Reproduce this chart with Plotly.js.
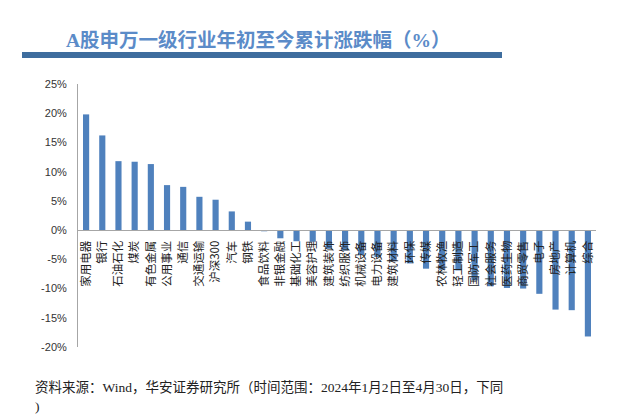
<!DOCTYPE html>
<html>
<head>
<meta charset="utf-8">
<script src="https://cdn.plot.ly/plotly-3.0.1.min.js"></script>
<style>
  html, body { margin: 0; padding: 0; background: #fff; }
  #chart { width: 635px; height: 417px; }
</style>
</head>
<body>
<div id="chart"></div>
<script>
var industries = ['家用电器', '银行', '石油石化', '煤炭', '有色金属', '公用事业', '通信', '交通运输', '沪深300', '汽车', '钢铁',
    '食品饮料', '非银金融', '基础化工', '美容护理', '建筑装饰', '纺织服饰', '机械设备', '电力设备', '建筑材料', '环保', '传媒',
    '农林牧渔', '轻工制造', '国防军工', '社会服务', '医药生物', '商贸零售', '电子', '房地产', '计算机', '综合'];
var changePct = [19.8, 16.2, 11.8, 11.7, 11.3, 7.7, 7.4, 5.7, 5.2, 3.2, 1.45,
    -0.2, -1.4, -1.9, -2.0, -3.2, -3.5, -4.3, -4.6, -5.3, -5.7, -6.6,
    -6.8, -6.9, -8.6, -9.6, -9.9, -10.0, -10.9, -13.6, -13.7, -18.2];
var yTicks = [25, 20, 15, 10, 5, 0, -5, -10, -15, -20];

var BAR_COLOR = '#4f81bd';
var AXIS_COLOR = '#a6a6a6';

var trace = {
    x: industries,
    y: changePct,
    type: 'bar',
    marker: { color: BAR_COLOR },
    hoverinfo: 'x+y'
};

var layout = {
    width: 635,
    height: 417,
    margin: { l: 78, r: 39, t: 84, b: 70 },
    paper_bgcolor: '#fff',
    plot_bgcolor: '#fff',
    showlegend: false,
    bargap: 0.62,
    font: { family: 'Liberation Sans, Arial, sans-serif', size: 11, color: '#333' },
    xaxis: {
        type: 'category',
        anchor: 'free',
        position: 20 / 45,
        showline: true,
        linecolor: AXIS_COLOR,
        linewidth: 1,
        ticks: '',
        tickangle: -90,
        ticklabelstandoff: 5,
        tickfont: { family: 'Noto Sans CJK SC, sans-serif', size: 11.5, color: '#222' },
        showgrid: false,
        zeroline: false,
        automargin: false
    },
    yaxis: {
        range: [-20, 25],
        tickvals: yTicks,
        ticktext: yTicks.map(v => v + '%'),
        showline: true,
        linecolor: AXIS_COLOR,
        linewidth: 1,
        ticks: '',
        ticklabelstandoff: 8,
        showgrid: false,
        zeroline: false,
        automargin: false,
        tickfont: { family: 'Liberation Sans, Arial, sans-serif', size: 11, color: '#333' }
    },
    shapes: [{
        type: 'rect', xref: 'paper', yref: 'paper',
        x0: -56 / 518, x1: 424 / 518, y0: 1 + 26 / 263, y1: 1 + 32 / 263,
        fillcolor: '#3e6d9e', line: { width: 0 }
    }],
    annotations: [{
        text: '<b>A股申万一级行业年初至今累计涨跌幅（%）</b>',
        xref: 'paper', yref: 'paper',
        x: 180 / 518, y: 1 + 44 / 263,
        xanchor: 'center', yanchor: 'middle',
        showarrow: false,
        font: { family: 'Liberation Serif, Noto Sans CJK SC, serif', size: 19.5, color: '#5b8bc8' }
    }, {
        text: '资料来源：Wind，华安证券研究所（时间范围：2024年1月2日至4月30日，下同',
        xref: 'paper', yref: 'paper',
        x: -45 / 518, y: -40 / 263,
        xanchor: 'left', yanchor: 'middle',
        showarrow: false,
        font: { family: 'Liberation Serif, Noto Sans CJK SC, serif', size: 13.5, color: '#222' }
    }, {
        text: ')',
        xref: 'paper', yref: 'paper',
        x: -45 / 518, y: -59 / 263,
        xanchor: 'left', yanchor: 'middle',
        showarrow: false,
        font: { family: 'Liberation Serif, Noto Sans CJK SC, serif', size: 13.5, color: '#222' }
    }]
};

Plotly.newPlot('chart', [trace], layout, { displayModeBar: false, staticPlot: true });
</script>
</body>
</html>
